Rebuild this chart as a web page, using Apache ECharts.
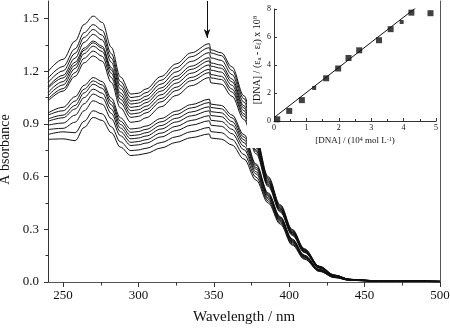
<!DOCTYPE html>
<html>
<head>
<meta charset="utf-8">
<script src="https://cdn.jsdelivr.net/npm/echarts@6/dist/echarts.min.js"></script>
<style>
  html, body { margin: 0; padding: 0; background: #fff; }
  #chart-container { width: 450px; height: 331px; }
</style>
</head>
<body>
<div id="chart-container"></div>
<script>
// wavelengths (nm) shared by every spectrum
var wavelengths = [240, 250, 258, 264, 270, 276, 282, 288, 295, 300, 305, 315, 325, 335, 347, 348, 355,
                   362, 370, 378, 386, 394, 402, 410, 420, 430, 440, 455, 500];

// absorbance spectra, top to bottom
var s01 = [1.198,1.268,1.372,1.467,1.514,1.478,1.336,1.168,1.070,1.075,1.099,1.170,1.242,1.305,1.357,1.322,1.305,1.225,1.060,0.820,0.600,0.440,0.300,0.190,0.090,0.040,0.016,0.008,0.004];
var s02 = [1.160,1.227,1.328,1.420,1.466,1.433,1.300,1.142,1.050,1.056,1.078,1.149,1.220,1.283,1.334,1.304,1.289,1.205,1.044,0.809,0.593,0.435,0.296,0.187,0.089,0.039,0.016,0.008,0.004];
var s03 = [1.135,1.202,1.302,1.393,1.438,1.405,1.275,1.120,1.030,1.036,1.058,1.127,1.196,1.256,1.306,1.276,1.262,1.181,1.024,0.796,0.585,0.429,0.291,0.184,0.087,0.039,0.015,0.008,0.004];
var s04 = [1.111,1.177,1.275,1.365,1.410,1.378,1.251,1.100,1.013,1.019,1.039,1.105,1.171,1.229,1.277,1.247,1.235,1.156,1.004,0.783,0.577,0.423,0.286,0.181,0.085,0.038,0.015,0.007,0.004];
var s05 = [1.103,1.162,1.251,1.332,1.372,1.342,1.221,1.077,0.994,1.000,1.021,1.087,1.153,1.211,1.259,1.229,1.217,1.140,0.991,0.774,0.571,0.419,0.283,0.179,0.084,0.037,0.015,0.007,0.003];
var s06 = [1.079,1.141,1.235,1.320,1.362,1.331,1.207,1.060,0.975,0.981,1.001,1.066,1.132,1.189,1.236,1.206,1.195,1.120,0.975,0.764,0.565,0.414,0.279,0.176,0.083,0.036,0.015,0.007,0.003];
var s07 = [1.060,1.122,1.216,1.301,1.343,1.312,1.188,1.041,0.956,0.962,0.982,1.045,1.109,1.165,1.211,1.181,1.171,1.099,0.958,0.752,0.557,0.409,0.274,0.173,0.081,0.036,0.014,0.007,0.003];
var s08 = [1.041,1.101,1.192,1.274,1.315,1.285,1.164,1.020,0.937,0.943,0.963,1.026,1.090,1.146,1.192,1.162,1.153,1.082,0.944,0.743,0.552,0.405,0.271,0.171,0.080,0.035,0.014,0.007,0.003];
var s09 = [1.030,1.087,1.171,1.248,1.287,1.257,1.136,0.992,0.909,0.915,0.935,0.998,1.062,1.118,1.164,1.134,1.126,1.058,0.925,0.730,0.544,0.399,0.266,0.168,0.079,0.034,0.014,0.006,0.003];
var s10 = [0.962,0.995,1.055,1.120,1.164,1.141,1.047,0.935,0.871,0.876,0.888,0.931,0.973,1.010,1.041,1.013,1.005,0.951,0.839,0.672,0.508,0.372,0.245,0.153,0.072,0.031,0.012,0.006,0.003];
var s11 = [0.950,0.975,1.030,1.098,1.145,1.122,1.028,0.916,0.852,0.857,0.869,0.912,0.954,0.991,1.022,0.994,0.986,0.935,0.825,0.664,0.502,0.368,0.241,0.151,0.070,0.030,0.012,0.006,0.003];
var s12 = [0.928,0.950,1.005,1.077,1.126,1.103,1.009,0.897,0.833,0.838,0.850,0.891,0.932,0.968,0.998,0.970,0.963,0.914,0.809,0.652,0.495,0.363,0.237,0.148,0.069,0.030,0.012,0.006,0.003];
var s13 = [0.915,0.935,0.985,1.050,1.098,1.075,0.985,0.877,0.815,0.820,0.831,0.871,0.911,0.946,0.975,0.948,0.941,0.894,0.793,0.642,0.489,0.358,0.233,0.145,0.068,0.029,0.012,0.006,0.002];
var s14 = [0.893,0.905,0.950,1.015,1.070,1.048,0.960,0.856,0.795,0.800,0.810,0.848,0.886,0.920,0.947,0.921,0.914,0.870,0.773,0.628,0.480,0.352,0.228,0.142,0.066,0.028,0.011,0.005,0.002];
var s15 = [0.868,0.875,0.910,0.975,1.032,1.012,0.930,0.833,0.777,0.781,0.791,0.826,0.862,0.893,0.918,0.893,0.886,0.845,0.753,0.615,0.472,0.346,0.223,0.139,0.064,0.027,0.011,0.005,0.002];
var s16 = [0.840,0.855,0.850,0.915,0.975,0.957,0.884,0.798,0.748,0.752,0.761,0.794,0.827,0.856,0.880,0.856,0.850,0.812,0.726,0.597,0.461,0.338,0.216,0.134,0.062,0.026,0.010,0.005,0.002];
var s17 = [0.812,0.815,0.805,0.880,0.937,0.920,0.850,0.768,0.720,0.724,0.732,0.763,0.795,0.822,0.843,0.820,0.813,0.780,0.700,0.580,0.450,0.330,0.210,0.130,0.060,0.025,0.010,0.005,0.002];
var spectra = [s01, s02, s03, s04, s05, s06, s07, s08, s09, s10, s11, s12, s13, s14, s15, s16, s17];

// main axis ticks
var xMajor = [250, 300, 350, 400, 450, 500];
var xMinor = [275, 325, 375, 425, 475];
var yMajor = [0, 0.3, 0.6, 0.9, 1.2, 1.5];
var yMinor = [0.15, 0.45, 0.75, 1.05, 1.35];

// arrow position (nm, absorbance from/to)
var arrowX = 345.5;
var arrowFrom = 1.6;
var arrowTo = 1.39;

// inset: [DNA] vs [DNA]/(ea-ef)
var dnaConc = [0.10, 0.47, 0.86, 1.24, 1.61, 1.98, 2.30, 2.63, 3.24, 3.60, 3.94, 4.24, 4.83];
var dnaRatio = [0.12, 0.72, 1.49, 2.36, 3.05, 3.75, 4.50, 5.05, 5.77, 6.56, 7.07, 7.74, 7.70];
var smallPoints = [3, 10];
var fitX = [0, 4.41];
var fitY = [0.24, 8.15];

var serif = 'Liberation Serif';
var ink = '#111';

var dom = document.getElementById('chart-container');
var myChart = echarts.init(dom, null, { renderer: 'canvas' });

var series = spectra.map(function (s, k) {
    var item = {
        type: 'line',
        xAxisIndex: 0,
        yAxisIndex: 0,
        data: wavelengths.map(function (w, i) { return [w, s[i]]; }),
        showSymbol: false,
        symbol: 'none',
        smooth: 0.35,
        smoothMonotone: 'x',
        lineStyle: { color: ink, width: 1 },
        z: 2,
        silent: true
    };
    if (k === 0) {
        item.markLine = {
            silent: true,
            symbol: ['none', 'arrow'],
            symbolSize: [5, 9],
            lineStyle: { color: ink, width: 1, type: 'solid' },
            label: { show: false },
            data: [[{ coord: [arrowX, arrowFrom] }, { coord: [arrowX, arrowTo] }]]
        };
    }
    return item;
});

series.push({
    type: 'line',
    xAxisIndex: 3,
    yAxisIndex: 3,
    data: fitX.map(function (x, i) { return [x, fitY[i]]; }),
    symbol: 'none',
    lineStyle: { color: ink, width: 1 },
    z: 6
});
series.push({
    type: 'scatter',
    xAxisIndex: 3,
    yAxisIndex: 3,
    data: dnaConc.map(function (x, i) { return [x, dnaRatio[i]]; }),
    symbol: 'rect',
    symbolSize: function (v, p) { return smallPoints.indexOf(p.dataIndex) >= 0 ? 4 : 6; },
    itemStyle: { color: ink },
    z: 7
});

var option = {
    animation: false,
    backgroundColor: '#fff',
    grid: [
        { left: 48, right: 10, top: 1, bottom: 49, outerBoundsMode: 'none', containLabel: false },
        { left: 274, right: 14, top: 9, bottom: 210, outerBoundsMode: 'none', containLabel: false }
    ],
    graphic: {
        elements: [{
            type: 'rect',
            z: 4,
            shape: { x: 247, y: 2, width: 192, height: 146 },
            style: { fill: '#fff' }
        }]
    },
    xAxis: [
        {
            gridIndex: 0, type: 'value', min: 240, max: 500, position: 'bottom',
            axisLine: { lineStyle: { color: '#333', width: 1 } },
            axisTick: { customValues: xMajor, length: 5, lineStyle: { color: '#333' } },
            axisLabel: { customValues: xMajor, fontFamily: serif, fontSize: 13, color: ink, margin: 7 },
            splitLine: { show: false },
            name: 'Wavelength / nm', nameLocation: 'middle', nameGap: 28,
            nameTextStyle: { fontFamily: serif, fontSize: 15, color: ink }
        },
        {
            gridIndex: 0, type: 'value', min: 240, max: 500, position: 'bottom',
            axisLine: { show: false },
            axisTick: { customValues: xMinor, length: 3.5, lineStyle: { color: '#333' } },
            axisLabel: { show: false },
            splitLine: { show: false }
        },
        {
            gridIndex: 0, type: 'value', min: 240, max: 500, position: 'top',
            axisLine: { lineStyle: { color: '#555' } },
            axisTick: { show: false }, axisLabel: { show: false }, splitLine: { show: false }
        },
        {
            gridIndex: 1, type: 'value', min: 0, max: 5, interval: 1, position: 'bottom',
            z: 6,
            axisLine: { lineStyle: { color: '#333' } },
            axisTick: { inside: true, length: 3, lineStyle: { color: '#333' } },
            minorTick: { show: true, splitNumber: 2, length: 2, lineStyle: { color: '#333' } },
            axisLabel: { fontFamily: serif, fontSize: 8, color: ink, margin: 3 },
            splitLine: { show: false },
            name: '{n|[DNA] / (10}{sup|4}{n| mol L}{sup|-1}{n|)}',
            nameLocation: 'middle', nameGap: 15,
            nameTextStyle: {
                rich: {
                    n: { fontFamily: serif, fontSize: 9, color: ink },
                    sup: { fontFamily: serif, fontSize: 6, color: ink, verticalAlign: 'top', padding: [0, 0, 4, 0] }
                }
            }
        }
    ],
    yAxis: [
        {
            gridIndex: 0, type: 'value', min: 0, max: 1.6, position: 'left',
            axisLine: { show: true, lineStyle: { color: '#333', width: 1 } },
            axisTick: { show: true, customValues: yMajor, length: 4, lineStyle: { color: '#333' } },
            axisLabel: {
                customValues: yMajor, fontFamily: serif, fontSize: 13, color: ink, margin: 9,
                formatter: function (v) { return v.toFixed(1); }
            },
            splitLine: { show: false },
            name: 'A bsorbance', nameLocation: 'middle', nameGap: 30, nameRotate: 90,
            nameTextStyle: { fontFamily: serif, fontSize: 14, color: ink, padding: [0, 16, 0, 0] }
        },
        {
            gridIndex: 0, type: 'value', min: 0, max: 1.6, position: 'left',
            axisLine: { show: false },
            axisTick: { show: true, customValues: yMinor, length: 2.5, lineStyle: { color: '#333' } },
            axisLabel: { show: false },
            splitLine: { show: false }
        },
        {
            gridIndex: 0, type: 'value', min: 0, max: 1.6, position: 'right',
            axisLine: { show: true, lineStyle: { color: '#555' } },
            axisTick: { show: false }, axisLabel: { show: false }, splitLine: { show: false }
        },
        {
            gridIndex: 1, type: 'value', min: 0, max: 8, interval: 2, position: 'left',
            z: 6,
            axisLine: { show: true, lineStyle: { color: '#333' } },
            axisTick: { show: true, inside: true, length: 3, lineStyle: { color: '#333' } },
            axisLabel: { fontFamily: serif, fontSize: 8, color: ink, margin: 3 },
            splitLine: { show: false },
            name: '{n|[DNA] / (ε}{sub|a}{n| - ε}{sub|f}{n|) x 10}{sup|8}',
            nameLocation: 'middle', nameGap: 10, nameRotate: 90,
            nameTextStyle: {
                padding: [0, 0, 0, 10],
                rich: {
                    n: { fontFamily: serif, fontSize: 10, color: ink },
                    sub: { fontFamily: serif, fontSize: 7, color: ink, verticalAlign: 'bottom', padding: [3, 0, 0, 0] },
                    sup: { fontFamily: serif, fontSize: 7, color: ink, verticalAlign: 'top', padding: [0, 0, 4, 0] }
                }
            }
        }
    ],
    series: series
};

myChart.setOption(option);

window.addEventListener('resize', function () {
    myChart.resize();
});
</script>
</body>
</html>
